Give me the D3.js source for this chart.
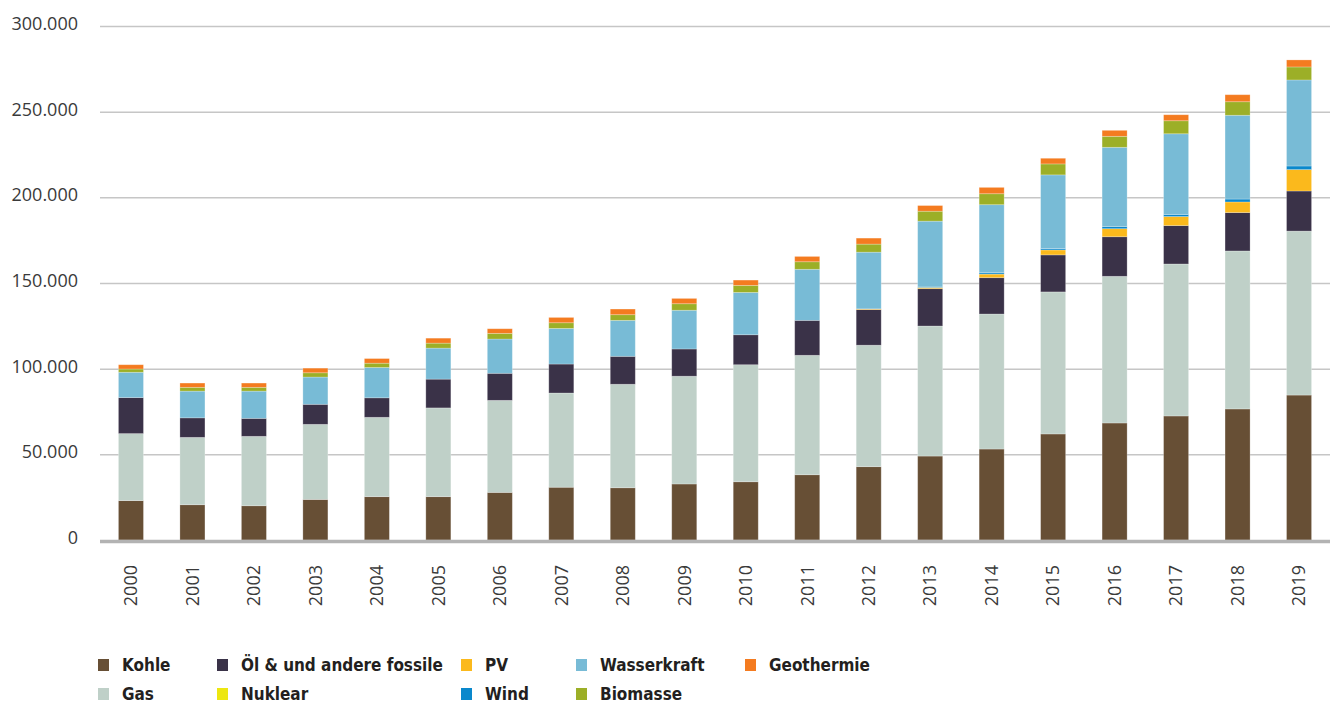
<!DOCTYPE html>
<html lang="de">
<head>
<meta charset="utf-8">
<script src="https://cdn.jsdelivr.net/npm/d3@7"></script>
<style>
  html, body { margin: 0; padding: 0; background: #ffffff; }
  svg { display: block; }
  .tick-label { font-family: "Open Sans", "Noto Sans", sans-serif; font-size: 18px; fill: #3a3a3a; }
  .legend-label { font-family: "DejaVu Sans", sans-serif; font-stretch: condensed; font-weight: bold; font-size: 18px; fill: #231f20; }
</style>
</head>
<body>
<svg id="chart" width="1330" height="704"></svg>
<script>
// Stromerzeugung nach Energieträger (GWh), 2000–2019
const years = ["2000","2001","2002","2003","2004","2005","2006","2007","2008","2009",
               "2010","2011","2012","2013","2014","2015","2016","2017","2018","2019"];

const kohle       = [23000,20600,20000,23700,25300,25300,27800,30800,30500,32700,34000,38100,42800,49000,53100,61900,68300,72400,76500,84600];
const gas         = [39100,39300,40500,43800,46300,51800,53700,55000,60400,62900,68300,69700,70900,75900,78800,82900,85600,88700,92200,95700];
const oel         = [21000,11400,10500,11700,11400,16800,15800,16900,16300,15900,17500,20400,20800,21800,21200,21600,23100,22400,22400,23400];
const nuklear     = [0,0,0,0,0,0,0,0,0,0,0,0,0,0,0,0,0,0,0,0];
const pv          = [0,0,0,0,0,0,0,0,0,0,0,0,400,700,2100,2900,4700,5300,6200,12500];
const wind        = [0,0,0,0,0,0,0,0,0,0,0,0,0,300,800,800,1200,1200,1700,2100];
const wasserkraft = [14800,15600,15900,15900,17700,18100,20000,20800,21000,22600,24700,29800,33100,38400,39700,43000,46300,47100,48900,50200];
const biomasse    = [1900,2200,2200,2500,2500,2900,3300,3300,3300,3800,4100,4400,4700,5800,6400,6400,6400,7600,7900,7600];
const geothermie  = [2500,2500,2500,2700,2700,2900,2700,3100,3300,3100,3100,3100,3500,3300,3700,3300,3500,3500,4100,4100];

const yTicks = [0, 50000, 100000, 150000, 200000, 250000, 300000];

// Series in stacking order (bottom to top) with their colours
const seriesNames  = ["Kohle", "Gas", "Öl & und andere fossile", "Nuklear", "PV", "Wind", "Wasserkraft", "Biomasse", "Geothermie"];
const seriesValues = [kohle, gas, oel, nuklear, pv, wind, wasserkraft, biomasse, geothermie];
const seriesColors = ["#674f35", "#bfd0c8", "#3a3248", "#ede710", "#fbb91c", "#0a88cc", "#78bbd6", "#9caf27", "#f47b20"];

// Legend layout: two rows, five columns
const legendOrder = [
  ["Kohle", "Öl & und andere fossile", "PV", "Wasserkraft", "Geothermie"],
  ["Gas", "Nuklear", "Wind", "Biomasse"]
];

const rows = years.map((yr, i) => {
  const r = { year: yr };
  seriesNames.forEach((n, k) => { r[n] = seriesValues[k][i]; });
  return r;
});

const svg = d3.select("#chart");
const plotLeft = 100, plotRight = 1330, plotTop = 26, plotBottom = 540;

const x = d3.scaleBand()
  .domain(years)
  .range([plotLeft, plotRight])
  .paddingInner(0.593)
  .paddingOuter(0.3);

const y = d3.scaleLinear()
  .domain([0, 300000])
  .range([plotBottom, plotTop]);

const color = d3.scaleOrdinal().domain(seriesNames).range(seriesColors);

const de = d3.formatLocale({ decimal: ",", thousands: ".", grouping: [3], currency: ["", " €"] });
const fmt = de.format(",.0f");

// Horizontal grid lines
const grid = svg.append("g")
  .attr("transform", `translate(${plotLeft},0)`)
  .call(d3.axisLeft(y).tickValues(yTicks.filter(t => t > 0)).tickSize(-(plotRight - plotLeft)).tickFormat(""));
grid.select(".domain").remove();
grid.selectAll(".tick line").attr("stroke", "#c6c6c6").attr("stroke-width", 1.5);

// Y axis labels
const yAxis = svg.append("g")
  .attr("transform", `translate(${plotLeft},0)`)
  .call(d3.axisLeft(y).tickValues(yTicks).tickSize(0).tickPadding(22).tickFormat(fmt));
yAxis.select(".domain").remove();
yAxis.selectAll(".tick text").attr("class", "tick-label").attr("dy", "0.2em");

// Stacked bars
const stack = d3.stack().keys(seriesNames);
const layers = stack(rows);

svg.append("g")
  .selectAll("g")
  .data(layers)
  .join("g")
  .attr("fill", d => color(d.key))
  .selectAll("rect")
  .data(d => d)
  .join("rect")
  .attr("x", d => x(d.data.year))
  .attr("width", x.bandwidth())
  .attr("y", d => y(d[1]))
  .attr("height", d => Math.max(0, y(d[0]) - y(d[1])))
  .attr("stroke", "#ffffff")
  .attr("stroke-opacity", d => (d[1] - d[0]) > 0 ? 0.3 : 0)
  .attr("stroke-width", 0.8);

// Baseline
svg.append("line")
  .attr("x1", plotLeft).attr("x2", plotRight)
  .attr("y1", y(0) + 1.5).attr("y2", y(0) + 1.5)
  .attr("stroke", "#b3b3b3").attr("stroke-width", 3.5);

// X axis labels (rotated years)
const xAxis = svg.append("g")
  .attr("transform", `translate(0,${plotBottom})`)
  .call(d3.axisBottom(x).tickSize(0).tickPadding(0));
xAxis.select(".domain").remove();
xAxis.selectAll(".tick text")
  .attr("class", "tick-label")
  .attr("text-anchor", "end")
  .attr("transform", "translate(0,25) rotate(-90)")
  .attr("dx", 0)
  .attr("dy", "0.35em")
  .attr("y", 0)
  .attr("x", 0);

// Legend
const legendCols = [98, 217, 461, 576, 745];
const legendRows = [665, 694];
const legend = svg.append("g");
const labels = [];
legendOrder.forEach((row, ri) => {
  row.forEach((name, ci) => {
    const g = legend.append("g")
      .attr("transform", `translate(${legendCols[ci]},${legendRows[ri]})`);
    g.append("rect")
      .attr("x", 0).attr("y", -6)
      .attr("width", 11).attr("height", 12)
      .attr("fill", color(name));
    const t = g.append("text")
      .attr("class", "legend-label")
      .attr("x", 0).attr("y", 0)
      .attr("dy", "0.36em")
      .text(name);
    labels.push(t);
  });
});

// Condense the legend type so the longest label fits its column
const longest = legend.selectAll("text").filter(function () { return this.textContent.startsWith("Öl"); }).node();
const squeeze = Math.min(1, 202 / longest.getComputedTextLength());
labels.forEach(t => t.attr("transform", `translate(24,0) scale(${squeeze},1)`));
</script>
</body>
</html>
